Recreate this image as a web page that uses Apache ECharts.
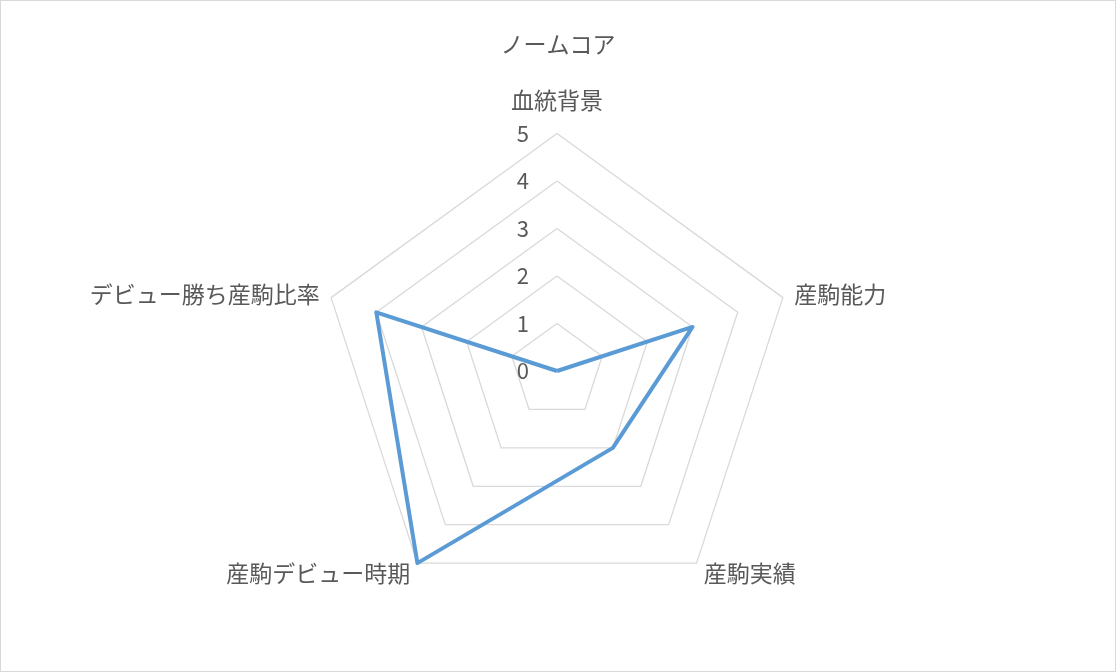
<!DOCTYPE html>
<html>
<head>
<meta charset="utf-8">
<script src="https://cdn.jsdelivr.net/npm/echarts@6/dist/echarts.min.js"></script>
<style>
  html, body { margin: 0; padding: 0; background: #fff; }
  #chart-container { width: 1116px; height: 672px; box-sizing: border-box; border: 1px solid #d9d9d9; }
</style>
</head>
<body>
<div id="chart-container"></div>
<script>
var titleText = "ノームコア";
var indicators = ["血統背景", "産駒能力", "産駒実績", "産駒デビュー時期", "デビュー勝ち産駒比率"];
var scores = [0, 3, 2, 5, 4];
var maxScore = 5;

// radar runs counterclockwise, so walk the lists the other way round to get a clockwise chart
var order = [0, 4, 3, 2, 1];

var font = "'Noto Sans CJK JP', 'Noto Sans', sans-serif";
var textColor = "#595959";

var dom = document.getElementById("chart-container");
var myChart = echarts.init(dom);
var option = {
  backgroundColor: "#fff",
  title: {
    text: titleText,
    left: "center",
    top: 27,
    textStyle: { fontFamily: font, fontSize: 23, fontWeight: "normal", color: textColor }
  },
  radar: {
    center: [556, 370],
    radius: 237.5,
    startAngle: 90,
    shape: "polygon",
    splitNumber: 5,
    nameGap: 12,
    axisName: {
      color: textColor,
      fontFamily: font,
      fontSize: 23,
      formatter: function (name) {
        return name === indicators[0] ? "{top|" + name + "}" : name;
      },
      rich: {
        top: { fontFamily: font, fontSize: 23, color: textColor, padding: [0, 0, 10, 0] }
      }
    },
    indicator: order.map(function (i) {
      var ind = { name: indicators[i], min: 0, max: maxScore };
      if (i === 0) {
        ind.axisLabel = { show: true };
      }
      return ind;
    }),
    axisLine: { show: false },
    axisTick: { show: false },
    axisLabel: {
      show: false,
      color: textColor,
      fontFamily: font,
      fontSize: 22,
      margin: 28
    },
    splitLine: { lineStyle: { color: "#d9d9d9", width: 1.3 } },
    splitArea: { show: false }
  },
  series: [
    {
      name: titleText,
      type: "radar",
      symbol: "none",
      lineStyle: { color: "#5b9bd5", width: 4 },
      itemStyle: { color: "#5b9bd5" },
      data: [{ value: order.map(function (i) { return scores[i]; }), name: titleText }]
    }
  ]
};
if (option && typeof option === "object") {
  myChart.setOption(option, true);
}
</script>
</body>
</html>
